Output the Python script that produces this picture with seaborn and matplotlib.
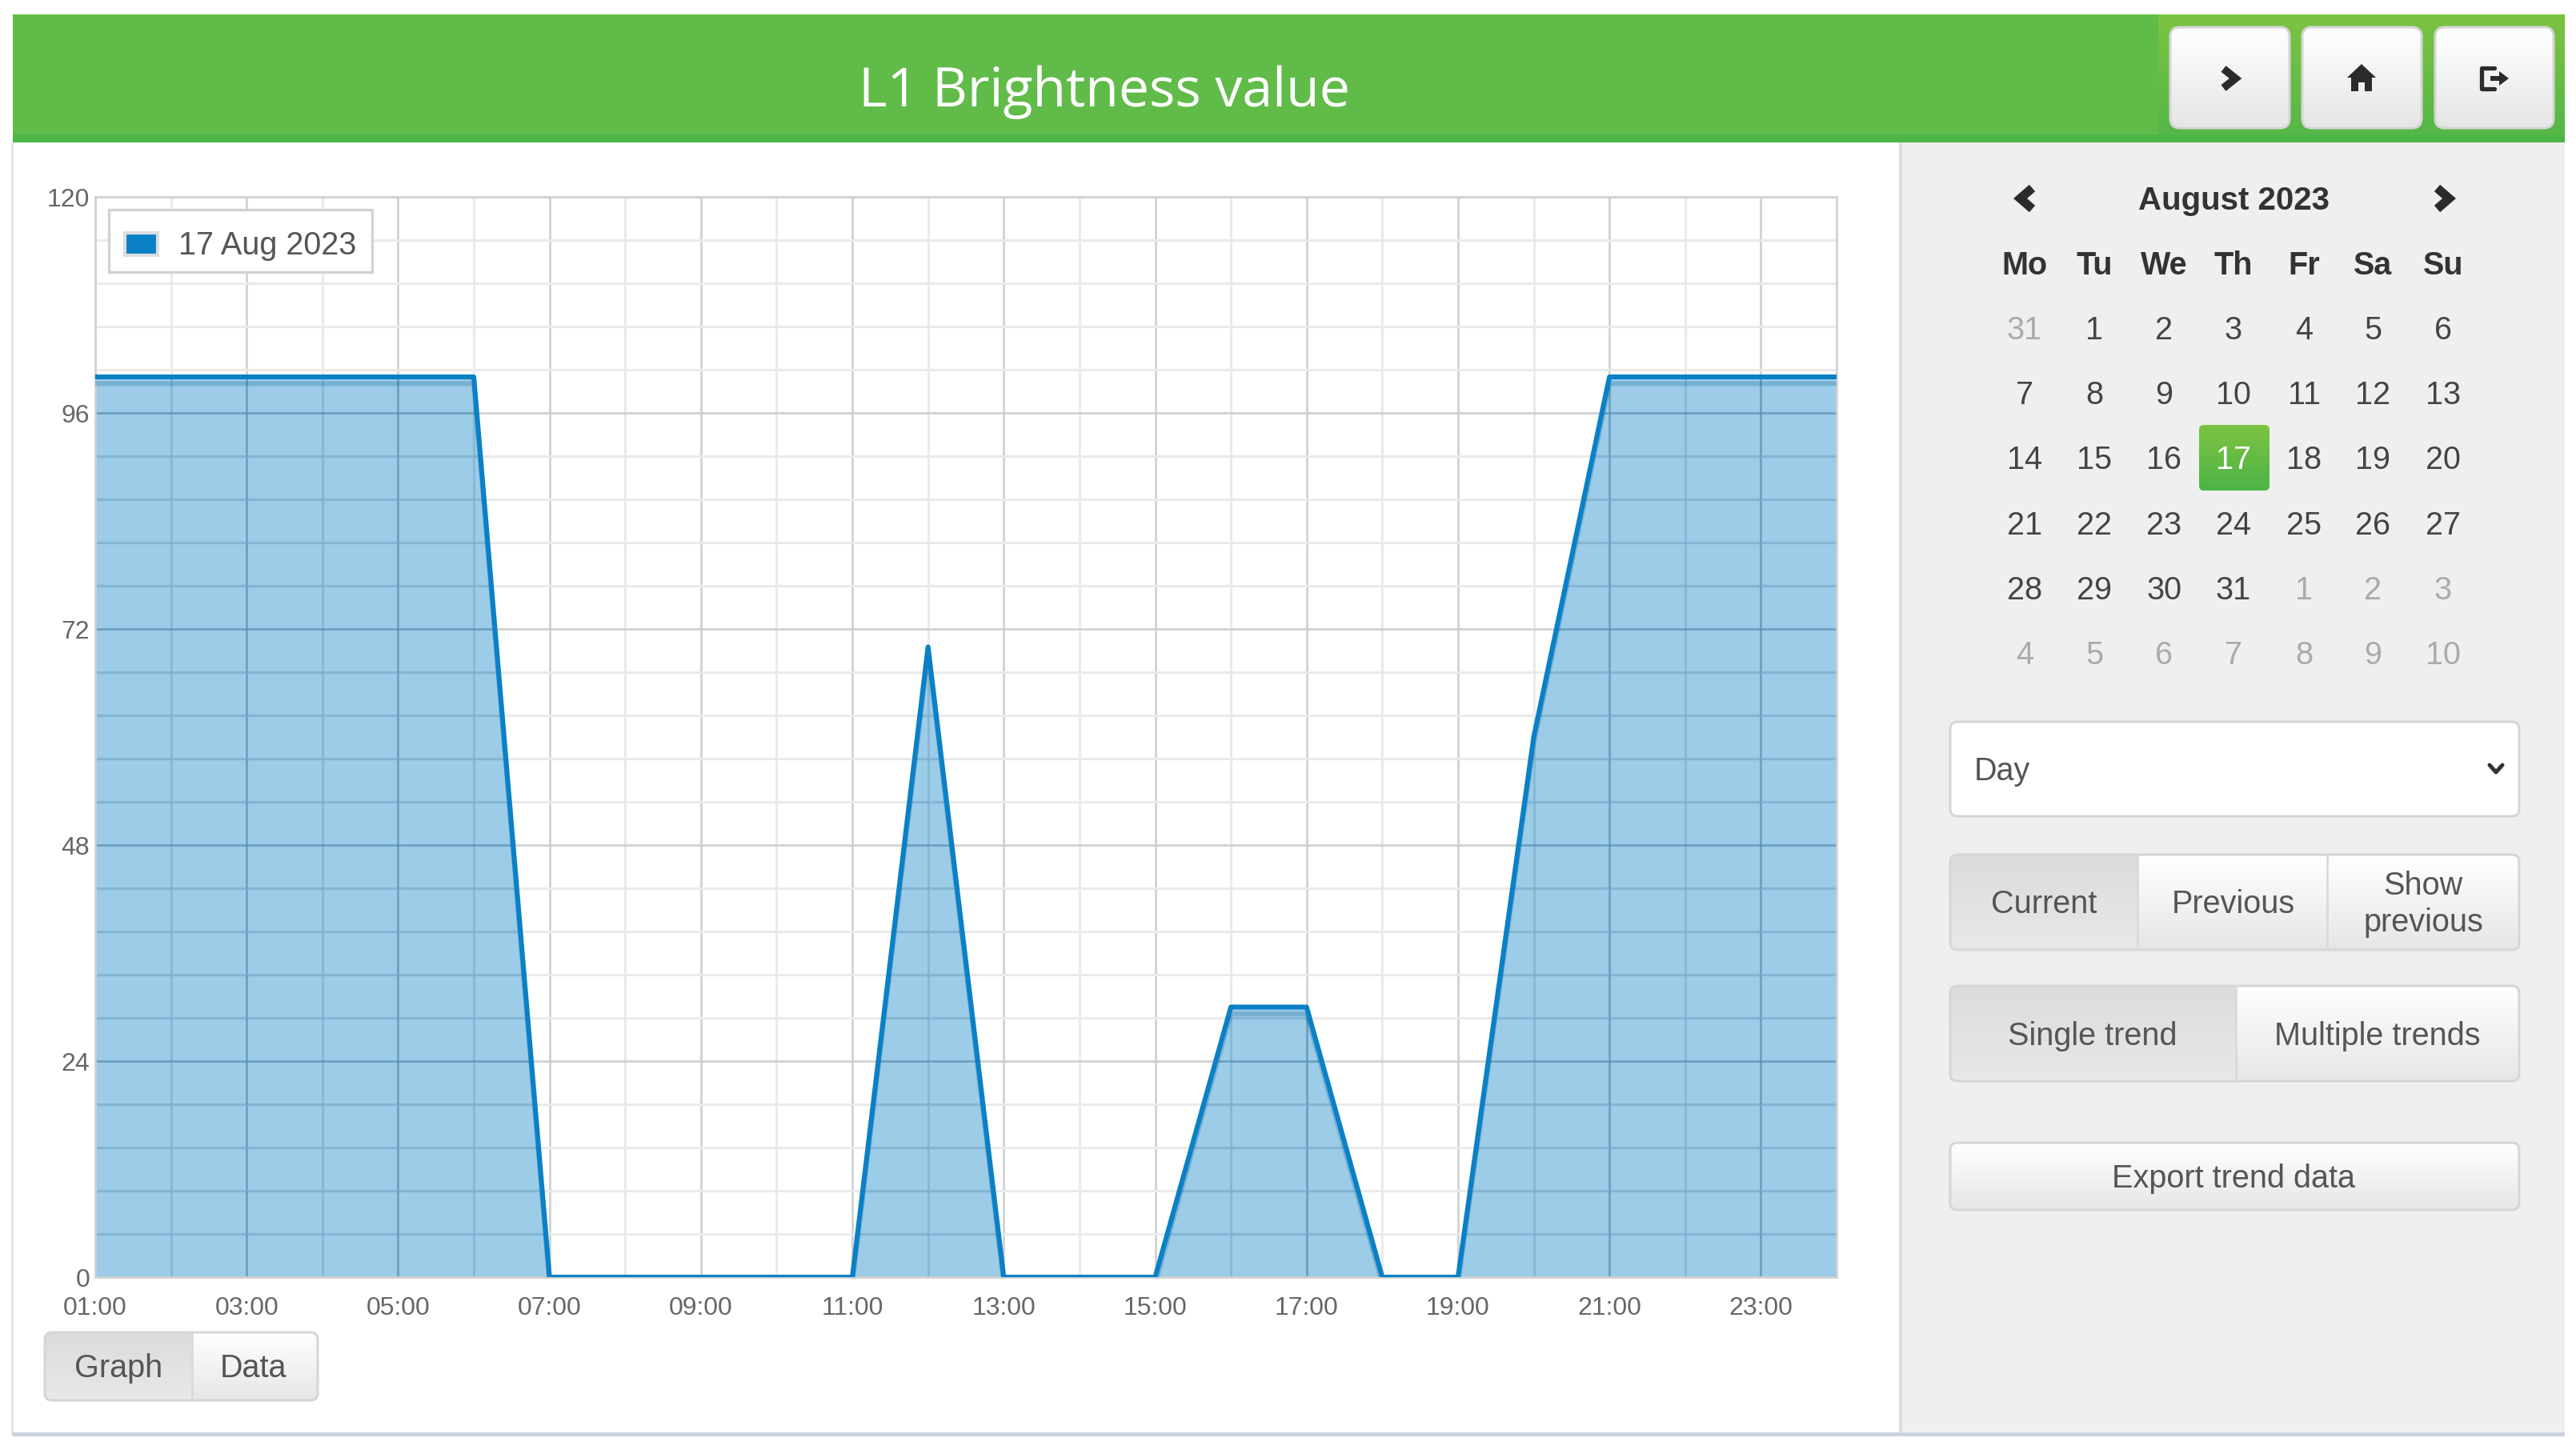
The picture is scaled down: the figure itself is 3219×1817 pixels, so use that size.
#!/usr/bin/env python3
"""L1 brightness trend page: seaborn area chart inside the dashboard screen."""

import numpy as np
import pandas as pd
import matplotlib
matplotlib.use("Agg")
import matplotlib.pyplot as plt
import matplotlib.patches as mpatches
import matplotlib.patheffects as pe
from matplotlib.colors import LinearSegmentedColormap
from matplotlib.ticker import FixedLocator
import seaborn as sns

W, H = 3219, 1817

HOURS = [1, 2, 3, 4, 5, 6, 7, 8, 9, 10, 11, 12, 13, 14, 15, 16, 17, 18, 19, 20, 21, 22, 23, 24]
BRIGHTNESS = [100, 100, 100, 100, 100, 100, 0, 0, 0, 0, 0, 70, 0, 0, 0, 30, 30, 0, 0, 60, 100, 100, 100, 100]

X_TICKS = [1, 3, 5, 7, 9, 11, 13, 15, 17, 19, 21, 23]
X_LABELS = ["01:00", "03:00", "05:00", "07:00", "09:00", "11:00",
            "13:00", "15:00", "17:00", "19:00", "21:00", "23:00"]
X_MINOR = [2, 4, 6, 8, 10, 12, 14, 16, 18, 20, 22]
Y_TICKS = [0, 24, 48, 72, 96, 120]
Y_MINOR = [4.8 * i for i in range(1, 25) if i % 5]
LEGEND_LABEL = "17 Aug 2023"

WEEKDAYS = ["Mo", "Tu", "We", "Th", "Fr", "Sa", "Su"]
CAL_DAYS = [
    [31, 1, 2, 3, 4, 5, 6],
    [7, 8, 9, 10, 11, 12, 13],
    [14, 15, 16, 17, 18, 19, 20],
    [21, 22, 23, 24, 25, 26, 27],
    [28, 29, 30, 31, 1, 2, 3],
    [4, 5, 6, 7, 8, 9, 10],
]

BLUE = "#0A80C6"
TXT = "#555555"

sns.set_style("whitegrid")
plt.rcParams["font.family"] = ["Liberation Sans", "DejaVu Sans"]

fig = plt.figure(figsize=(W / 100, H / 100), dpi=100, facecolor="white")

# Page chrome is laid out in pixels on a background axes
bg = fig.add_axes([0, 0, 1, 1], zorder=0)
bg.set_xlim(0, W)
bg.set_ylim(H, 0)
bg.axis("off")


def rect(x0, y0, x1, y1, color, z=1):
    bg.add_patch(mpatches.Rectangle((x0, y0), x1 - x0, y1 - y0, fc=color, ec="none", zorder=z))


def gradient(x0, y0, x1, y1, top, bottom, clip, z=2):
    cmap = LinearSegmentedColormap.from_list("g", [top, bottom])
    im = bg.imshow(np.linspace(0, 1, 64)[:, None], extent=(x0, x1, y1, y0), cmap=cmap,
                   aspect="auto", zorder=z, interpolation="bilinear")
    im.set_clip_path(clip)


def button(x0, y0, x1, y1, top="#FFFFFF", bottom="#E6E6E6", r=9, edge="#D6D6D6"):
    box = mpatches.FancyBboxPatch((x0 + r, y0 + r), x1 - x0 - 2 * r, y1 - y0 - 2 * r,
                                  boxstyle=f"round,pad={r},rounding_size={r}",
                                  fc="none", ec=edge, lw=2.2, zorder=4)
    bg.add_patch(box)
    gradient(x0, y0, x1, y1, top, bottom, box)
    return box


def button_group(x0, y0, x1, y1, stops, active_end):
    box = button(x0, y0, x1, y1)
    gradient(x0, y0, active_end, y1, "#DCDCDC", "#E8E8E8", box, z=3)
    for s in stops:
        bg.plot([s, s], [y0, y1], color="#DADADA", lw=2, zorder=4)


def label(x, y, s, size=28.5, color=TXT, weight="normal", ha="center", **kw):
    bg.text(x, y + 3, s, fontsize=size, color=color, fontweight=weight, ha=ha, va="center", zorder=6, **kw)


def chevron(cx, cy, w, h, lw, flip=False):
    d = -1 if flip else 1
    bg.plot([cx - d * w / 2, cx + d * w / 2, cx - d * w / 2], [cy - h / 2, cy, cy + h / 2],
            color="#2B2B2B", lw=lw, solid_joinstyle="miter", solid_capstyle="butt", zorder=6)


# page, sidebar, header
rect(14, 178, 17, 1794, "#E4E4E4")
rect(2375, 178, 3205, 1794, "#EFEFEF")
rect(2373, 178, 2377, 1794, "#DEDEDE", z=2)
rect(16, 1790, 3205, 1795, "#CDD2E0", z=2)
rect(16, 18, 3205, 178, "#61BB49")
rect(16, 168, 3205, 178, "#4EB547", z=2)
header_right = mpatches.Rectangle((2697, 18), 508, 150, fc="none", ec="none")
bg.add_patch(header_right)
gradient(2697, 18, 3205, 168, "#7DC342", "#55B748", header_right)
bg.text(1380, 115, "L1 Brightness value", fontsize=49, color="white", ha="center", va="center",
        family="Open Sans", zorder=6)

# header buttons with drawn icons
for x0, x1 in [(2712, 2861), (2877, 3026), (3043, 3191)]:
    button(x0, 34, x1, 160, r=12)
chevron(2786, 98, 15, 24, 7)
bg.add_patch(mpatches.Polygon([[2951, 80], [2969, 97], [2964, 97], [2964, 114], [2955, 114], [2955, 103],
                               [2947, 103], [2947, 114], [2938, 114], [2938, 97], [2933, 97]],
                              fc="#2B2B2B", ec="none", zorder=6))
bg.plot([3117, 3101, 3101, 3117], [85, 85, 111, 111], color="#2B2B2B", lw=3.8, zorder=6,
        solid_joinstyle="round")
bg.add_patch(mpatches.Polygon([[3112, 95], [3123, 95], [3123, 89], [3135, 98], [3123, 107], [3123, 101], [3112, 101]],
                              fc="#2B2B2B", ec="none", zorder=6))

# calendar
cal_x = [2530, 2617, 2704, 2791, 2879, 2965, 3053]
cal_y = [410, 491, 572, 654, 735, 816]
chevron(2532, 248, 15, 26, 8, flip=True)
chevron(3053, 248, 15, 26, 8)
label(2791, 248, "August 2023", size=29, color="#333333", weight="bold")
for x, day in zip(cal_x, WEEKDAYS):
    label(x, 329, day, size=28.5, color="#333333", weight="bold")
today = mpatches.FancyBboxPatch((2754, 537), 76, 70, boxstyle="round,pad=6,rounding_size=6",
                                fc="none", ec="none", zorder=3)
bg.add_patch(today)
gradient(2748, 531, 2836, 613, "#7DC342", "#4CB447", today, z=3)
for r, (y, week) in enumerate(zip(cal_y, CAL_DAYS)):
    for c, (x, d) in enumerate(zip(cal_x, week)):
        muted = (r == 0 and d > 20) or (r >= 4 and d < 20)
        if r == 2 and d == 17:
            label(x, y, d, color="white")
        else:
            label(x, y, d, color="#AAAAAA" if muted else "#444444")

# controls
select = mpatches.FancyBboxPatch((2446, 911), 693, 100, boxstyle="round,pad=9,rounding_size=9",
                                 fc="white", ec="#D6D6D6", lw=2.2, zorder=3)
bg.add_patch(select)
label(2467, 961, "Day", color=TXT, ha="left")
bg.plot([3111, 3119, 3127], [956, 965, 956], color="#333333", lw=3.6, zorder=6)

button_group(2437, 1068, 3148, 1187, [2671, 2908], 2671)
label(2554, 1127, "Current")
label(2791, 1127, "Previous")
label(3028, 1104, "Show")
label(3028, 1150, "previous")

button_group(2437, 1232, 3148, 1351, [2794], 2794)
label(2615, 1292, "Single trend")
label(2971, 1292, "Multiple trends")

button(2437, 1428, 3148, 1512)
label(2791, 1470, "Export trend data")

button_group(56, 1665, 397, 1750, [240], 240)
label(148, 1707, "Graph")
label(317, 1707, "Data")

# the trend itself
df = pd.DataFrame({"hour": HOURS, "brightness": BRIGHTNESS})

ax = fig.add_axes([119 / W, 1 - 1596 / H, (2295 - 119) / W, (1596 - 246) / H], zorder=2)
ax.set_facecolor("white")
area = ax.fill_between(df["hour"], df["brightness"], color=BLUE, alpha=0.4, lw=0, zorder=2)
sns.lineplot(data=df, x="hour", y="brightness", ax=ax, color=BLUE, lw=4.4, legend=False, zorder=3,
             path_effects=[pe.SimpleLineShadow(offset=(0, -6), shadow_color="#0B5E90", alpha=0.25),
                           pe.Normal()])

ax.set_xlim(1, 24)
ax.set_ylim(0, 120)
ax.set_xlabel("")
ax.set_ylabel("")
ax.set_xticks(X_TICKS)
ax.set_xticklabels(X_LABELS)
ax.set_yticks(Y_TICKS)
ax.xaxis.set_minor_locator(FixedLocator(X_MINOR))
ax.yaxis.set_minor_locator(FixedLocator(Y_MINOR))
ax.set_axisbelow(True)
ax.grid(which="major", color="#CFCFCF", lw=1.9)
ax.grid(which="minor", color="#EAEAEA", lw=2.2)
ax.tick_params(axis="x", which="both", length=0, labelsize=23, labelcolor="#666666", pad=17)
ax.tick_params(axis="y", which="both", length=0, labelsize=23, labelcolor="#666666", pad=5)
for side in ax.spines.values():
    side.set_color("#D2D2D2")
    side.set_linewidth(2)

# grid shows through the area as darker lines
clip_path = area.get_paths()[0]
shade = [
    ax.vlines(X_TICKS, 0, 120, color="#1F6A97", alpha=0.22, lw=1.9, zorder=2.5),
    ax.vlines(X_MINOR, 0, 120, color="#1F6A97", alpha=0.08, lw=2.0, zorder=2.5),
    ax.hlines(Y_TICKS, 1, 24, color="#1F6A97", alpha=0.22, lw=1.9, zorder=2.5),
    ax.hlines(Y_MINOR, 1, 24, color="#1F6A97", alpha=0.1, lw=2.4, zorder=2.5),
]
for coll in shade:
    coll.set_clip_path(clip_path, ax.transData)

handle = mpatches.Patch(fc=BLUE, ec="#DDDDDD", lw=3, label=LEGEND_LABEL)
leg = ax.legend(handles=[handle], loc="upper left", bbox_to_anchor=(17 / 2176, 1 - 16 / 1350),
                borderaxespad=0, fontsize=28.5, labelcolor="#555555", handlelength=1.05, handleheight=0.72,
                handletextpad=0.65, borderpad=0.5, fancybox=False, framealpha=1, edgecolor="#D2D2D2")
leg.get_frame().set_linewidth(2.4)
leg.get_texts()[0].set_position((0, -6))
leg.legend_handles[0].set_y(-5)

fig.savefig("out.png", dpi=100)
